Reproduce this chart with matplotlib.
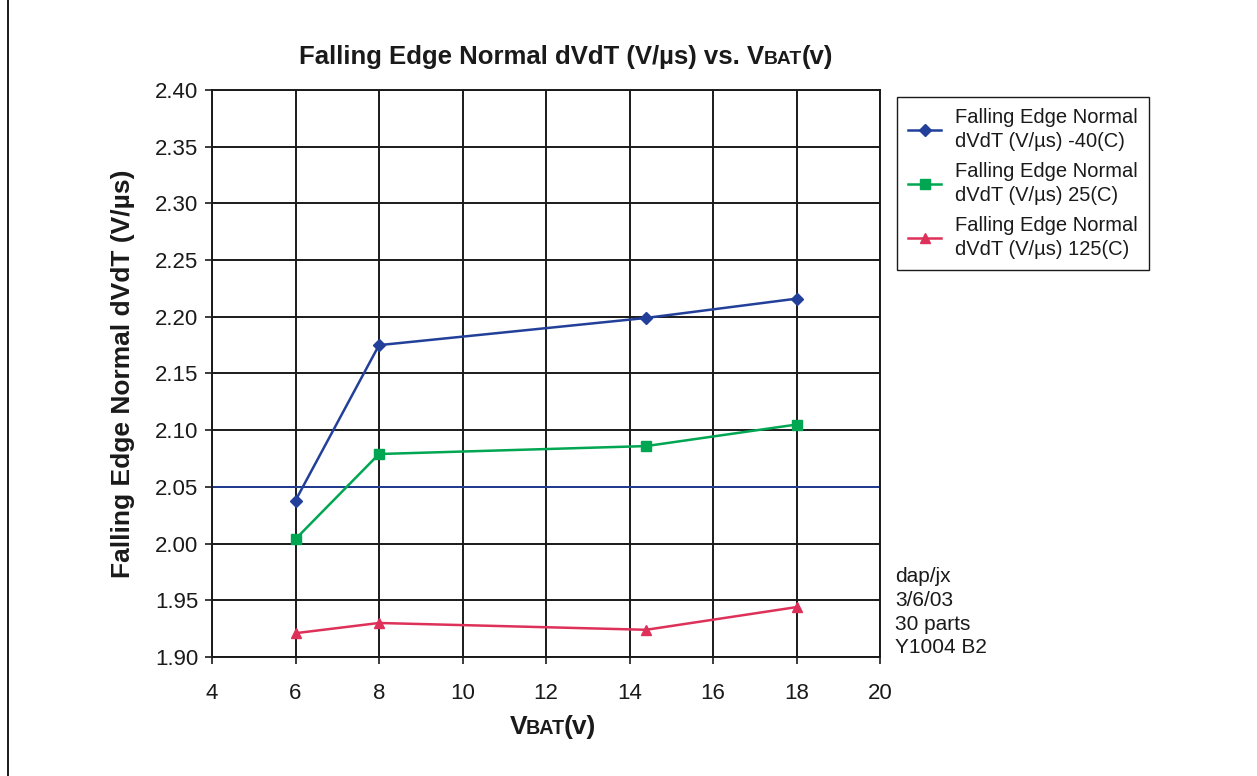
import numpy as np
from matplotlib import pyplot as plt
from matplotlib.offsetbox import TextArea, HPacker, AnchoredOffsetbox
from matplotlib.patches import Rectangle

plt.rcParams['font.family'] = ['Liberation Sans', 'DejaVu Sans']

vbat = [6, 8, 14.4, 18]
cold = [2.038, 2.175, 2.199, 2.216]
room = [2.004, 2.079, 2.086, 2.105]
hot = [1.921, 1.930, 1.924, 1.944]
labels = ['Falling Edge Normal\ndVdT (V/\u00b5s) -40(C)',
          'Falling Edge Normal\ndVdT (V/\u00b5s) 25(C)',
          'Falling Edge Normal\ndVdT (V/\u00b5s) 125(C)']
ref_level = 2.05
notes = 'dap/jx\n3/6/03\n30 parts\nY1004 B2'

fig = plt.figure(figsize=(12.57, 7.76), dpi=100)
ax = fig.add_axes([212/1257, 1-657/776, 668/1257, 567/776])

ax.set_xlim(4, 20)
ax.set_ylim(1.90, 2.40)
ax.set_xticks(np.arange(4, 21, 2))
ax.set_yticks(np.arange(1.90, 2.401, 0.05))
ax.set_yticklabels(['%.2f' % v for v in np.arange(1.90, 2.401, 0.05)])
ax.grid(True, color='#1a1a1a', linewidth=1.4)
ax.set_axisbelow(True)
ax.tick_params(labelsize=16, direction='out', length=5, width=1.2, colors='#1a1a1a')
ax.tick_params(axis='x', pad=14)
ax.tick_params(axis='y', pad=5)
for s in ax.spines.values():
    s.set_linewidth(1.4)
    s.set_color('#1a1a1a')

ax.axhline(ref_level, color='#22409A', linewidth=1.3, zorder=2)
ax.plot(vbat, cold, color='#22409A', marker='D', markersize=6, linewidth=1.8, label=labels[0], zorder=3)
ax.plot(vbat, room, color='#00A651', marker='s', markersize=7, linewidth=1.8, label=labels[1], zorder=3)
ax.plot(vbat, hot, color='#DE3159', marker='^', markersize=7, linewidth=1.8, label=labels[2], zorder=3)

ax.set_ylabel('Falling Edge Normal dVdT (V/\u00b5s)', fontsize=19, fontweight='bold',
              labelpad=14, color='#1a1a1a')

leg = fig.legend(loc='upper left', bbox_to_anchor=(897/1257, 1-97/776), fontsize=14.5,
                 fancybox=False, edgecolor='#1a1a1a', framealpha=1, handlelength=1.65,
                 borderpad=0.55, labelspacing=0.58, handletextpad=0.7, borderaxespad=0)
leg.get_frame().set_linewidth(1.0)
for t in leg.get_texts():
    t.set_linespacing(1.3)
    t.set_color('#1a1a1a')

fig.text(895/1257, 1-567/776, notes, fontsize=15, va='top', ha='left', linespacing=1.32,
         color='#1a1a1a')

def vbat_label(prefix, size, x, y, sep=0):
    big = dict(fontsize=size, fontweight='bold', color='#1a1a1a')
    small = dict(fontsize=size*0.75, fontweight='bold', color='#1a1a1a')
    parts = [TextArea(prefix + 'V', textprops=big), TextArea('BAT', textprops=small),
             TextArea('(v)', textprops=big)]
    box = HPacker(children=parts, align='baseline', pad=0, sep=sep)
    anchored = AnchoredOffsetbox(loc='center', child=box, bbox_to_anchor=(x, y),
                                 bbox_transform=fig.transFigure, frameon=False, pad=0, borderpad=0)
    fig.add_artist(anchored)

vbat_label('Falling Edge Normal dVdT (V/\u00b5s) vs. ', 18.5, 566/1257, 1-57/776)
vbat_label('', 19, 553/1257, 1-727/776, sep=-1)

fig.add_artist(Rectangle((8/1257, -0.01), 1.2, 1.2, transform=fig.transFigure,
                         fill=False, edgecolor='#1a1a1a', linewidth=1.4))

fig.savefig('out.png', dpi=100)
